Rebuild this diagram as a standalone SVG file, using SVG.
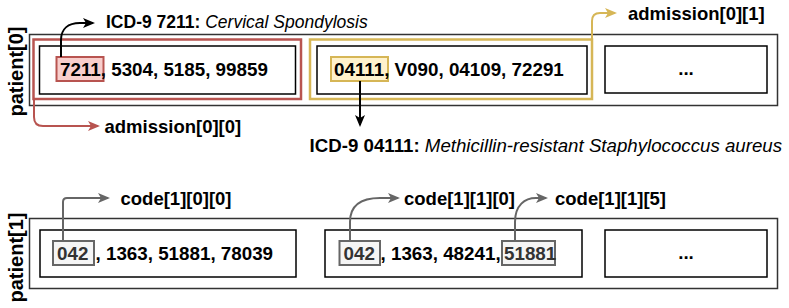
<svg xmlns="http://www.w3.org/2000/svg" width="789" height="308" viewBox="0 0 789 308">
<style>
  text { font-family: "Liberation Sans", Arial, Helvetica, sans-serif; font-weight: bold; fill: #000; }
  .box { fill: none; stroke: #000; stroke-width: 1.5; }
  .outer { fill: #fff; stroke: #333; stroke-width: 1.5; }
  .num { font-size: 18.8px; }
  .lbl { font-size: 18.5px; }
  .pt { font-size: 20px; }
  .it { font-style: italic; font-weight: normal; }
  .gtxt { fill: #333333; }
  .hl-red { fill: #f8cecc; stroke: #b85450; stroke-width: 2; }
  .hl-yel { fill: #fff2cc; stroke: #d6b656; stroke-width: 2; }
  .hl-gry { fill: #f5f5f5; stroke: #666666; stroke-width: 2; }
  .c { fill: none; stroke-width: 2; }
</style>
<defs>
  <marker id="ah-k" viewBox="0 0 12 10" refX="10" refY="5" markerWidth="12" markerHeight="10" markerUnits="userSpaceOnUse" orient="auto"><path d="M0,0 L12,5 L0,10 L3,5 z" fill="#000"/></marker>
  <marker id="ah-r" viewBox="0 0 12 10" refX="10" refY="5" markerWidth="12" markerHeight="10" markerUnits="userSpaceOnUse" orient="auto"><path d="M0,0 L12,5 L0,10 L3,5 z" fill="#b85450"/></marker>
  <marker id="ah-y" viewBox="0 0 12 10" refX="10" refY="5" markerWidth="12" markerHeight="10" markerUnits="userSpaceOnUse" orient="auto"><path d="M0,0 L12,5 L0,10 L3,5 z" fill="#d6b656"/></marker>
  <marker id="ah-g" viewBox="0 0 12 10" refX="10" refY="5" markerWidth="12" markerHeight="10" markerUnits="userSpaceOnUse" orient="auto"><path d="M0,0 L12,5 L0,10 L3,5 z" fill="#666666"/></marker>
</defs>

<g id="patient0">
  <rect class="outer" x="29.5" y="34.5" width="748" height="71"/>
  <text class="pt" text-anchor="middle" transform="translate(22.5,71.5) rotate(-90)">patient[0]</text>
</g>
<g id="admission00">
  <rect class="box" x="39.5" y="46" width="256" height="48"/>
  <rect class="hl-red" x="56.5" y="57" width="47" height="24"/>
  <text class="num" x="60" y="75.5">7211, 5304, 5185, 99859</text>
</g>
<g id="admission01">
  <rect class="box" x="317" y="46" width="270" height="48"/>
  <rect class="hl-yel" x="331" y="57" width="57" height="24"/>
  <text class="num" x="334" y="75.5">04111, V090, 04109, 72291</text>
</g>
<g id="admission02">
  <rect class="box" x="605" y="46" width="162" height="47"/>
  <text class="num" x="686" y="75" text-anchor="middle">...</text>
</g>
<g id="sel-admission00">
  <rect x="33.5" y="39.5" width="267.5" height="59.5" fill="none" stroke="#b85450" stroke-width="2.5"/>
</g>
<g id="sel-admission01">
  <rect x="310" y="39.5" width="282" height="59.5" fill="none" stroke="#d6b656" stroke-width="2.5"/>
</g>

<g id="patient1">
  <rect class="outer" x="29.5" y="218.5" width="748" height="70"/>
  <text class="pt" text-anchor="middle" transform="translate(22.5,257.5) rotate(-90)">patient[1]</text>
</g>
<g id="admission10">
  <rect class="box" x="40" y="230" width="256" height="47"/>
  <rect class="hl-gry" x="53" y="241" width="41" height="24"/>
  <text class="num gtxt" x="57" y="259.5">042</text>
  <text class="num" x="95.5" y="259.5">, 1363, 51881, 78039</text>
</g>
<g id="admission11">
  <rect class="box" x="325" y="230" width="257" height="47"/>
  <rect class="hl-gry" x="339.5" y="241" width="40.5" height="24"/>
  <text class="num gtxt" x="343.5" y="259.5">042</text>
  <text class="num" x="380.5" y="259.5">, 1363, 48241,</text>
  <rect class="hl-gry" x="502" y="241" width="53" height="24"/>
  <text class="num gtxt" x="504" y="259.5">51881</text>
</g>
<g id="admission12">
  <rect class="box" x="605" y="230" width="162" height="47"/>
  <text class="num" x="686" y="259" text-anchor="middle">...</text>
</g>

<g id="labels">
  <text x="106" y="28" style="font-size:17.5px">ICD-9 7211: <tspan class="it">Cervical Spondylosis</tspan></text>
  <text x="309.5" y="152" style="font-size:18.7px">ICD-9 04111: <tspan class="it">Methicillin-resistant Staphylococcus aureus</tspan></text>
  <text class="lbl" x="104.5" y="133">admission[0][0]</text>
  <text class="lbl" x="628" y="20">admission[0][1]</text>
  <text class="lbl" x="120.5" y="205">code[1][0][0]</text>
  <text class="lbl" x="404" y="205">code[1][1][0]</text>
  <text class="lbl" x="555" y="205">code[1][1][5]</text>
</g>

<g id="connectors">
  <path class="c" stroke="#000" d="M61,57 L61,40 C61,29 68,23 80,23 L93,23" marker-end="url(#ah-k)"/>
  <path class="c" stroke="#000" d="M360,81 L360,125" marker-end="url(#ah-k)"/>
  <path class="c" stroke="#b85450" d="M34,99 L34,117 Q34,126 43,126 L98,126" marker-end="url(#ah-r)"/>
  <path class="c" stroke="#d6b656" d="M592,40 L592,21 Q592,13 600,13 L615,13" marker-end="url(#ah-y)"/>
  <path class="c" stroke="#666666" d="M63,241 L63,202 Q63,198 67,198 L108,198" marker-end="url(#ah-g)"/>
  <path class="c" stroke="#666666" d="M350,241 L350,222 C350,205 361,198 380,198 L398,198" marker-end="url(#ah-g)"/>
  <path class="c" stroke="#666666" d="M515,241 L515,222 C515,205 525,198 536,198 L546,198" marker-end="url(#ah-g)"/>
</g>
</svg>
